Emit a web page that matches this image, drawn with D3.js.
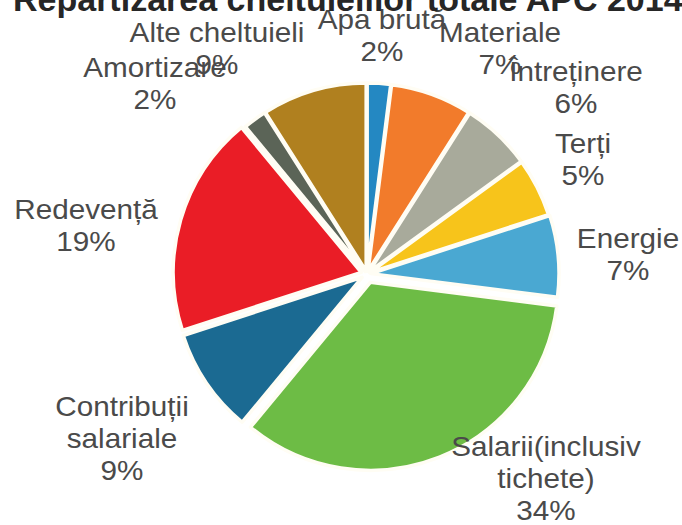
<!DOCTYPE html>
<html>
<head>
<meta charset="utf-8">
<script src="https://cdn.jsdelivr.net/npm/d3@7/dist/d3.min.js"></script>
<style>
  html, body { margin: 0; padding: 0; background: #ffffff; }
  svg { display: block; }
</style>
</head>
<body>
<svg id="chart" width="682" height="525"></svg>
<script>
// Cost breakdown, clockwise from 12 o'clock ("\n" marks a label line break)
const categories = [
  "Apa brută",
  "Materiale",
  "Întreținere",
  "Terți",
  "Energie",
  "Salarii(inclusiv\ntichete)",
  "Contribuții\nsalariale",
  "Redevență",
  "Amortizare",
  "Alte cheltuieli"
];
const values = [2, 7, 6, 5, 7, 34, 9, 19, 2, 9];
const sliceColors = [
  "#2488c2", "#f27b2b", "#a8aa9b", "#f7c41b", "#4aa8d2",
  "#6dbc45", "#1b6a92", "#ea1d26", "#5b6457", "#b0801f"
];
const titleText = "Repartizarea cheltuielilor totale APC 2014";

// ---- layout ----
const W = 682, H = 525;
const cx = 367, cy = 274, radius = 188;
// how far each slice is pulled out from the centre
const explode = [3, 3, 3, 3, 4, 9, 6, 6, 3, 3];
// label block anchors: x centre and first baseline
const labelAt = [
  [382, 29], [500, 42], [576, 81], [583, 153], [628, 248],
  [546, 456], [122, 416], [86, 219], [155, 77], [217, 42]
];
const lineStep = 32;

const svg = d3.select("#chart");
svg.append("rect").attr("width", W).attr("height", H).attr("fill", "#ffffff");

const pie = d3.pie().sort(null).value(d => d).startAngle(0).endAngle(2 * Math.PI);
const arcs = pie(values);
const arc = d3.arc().innerRadius(0).outerRadius(radius);

const g = svg.append("g").attr("transform", `translate(${cx},${cy})`);

g.selectAll("path.slice")
  .data(arcs)
  .join("path")
  .attr("class", "slice")
  .attr("d", arc)
  .attr("fill", (d, i) => sliceColors[i])
  .attr("stroke", "#fffdf4")
  .attr("stroke-width", 3.5)
  .attr("stroke-linejoin", "round")
  .attr("transform", (d, i) => {
    const a = (d.startAngle + d.endAngle) / 2;
    const e = explode[i];
    return `translate(${e * Math.sin(a)},${-e * Math.cos(a)})`;
  });

// data labels: category name lines followed by the percentage
const labels = svg.append("g")
  .attr("font-family", "'Liberation Sans', Arial, sans-serif")
  .attr("font-size", 28)
  .attr("fill", "#4a4a4a");

arcs.forEach((d, i) => {
  const lines = categories[i].split("\n").concat([values[i] + "%"]);
  const [lx, ly] = labelAt[i];
  const t = labels.append("g")
    .attr("transform", `translate(${lx},${ly}) scale(1.06,1)`)
    .append("text")
    .attr("text-anchor", "middle");
  lines.forEach((s, k) => {
    t.append("tspan").attr("x", 0).attr("y", k * lineStep).text(s);
  });
});

// chart title, running off the top edge
svg.append("text")
  .attr("x", 13)
  .attr("y", 11)
  .attr("font-family", "'Liberation Sans', Arial, sans-serif")
  .attr("font-weight", "bold")
  .attr("font-size", 34)
  .attr("fill", "#262626")
  .text(titleText);
</script>
</body>
</html>
